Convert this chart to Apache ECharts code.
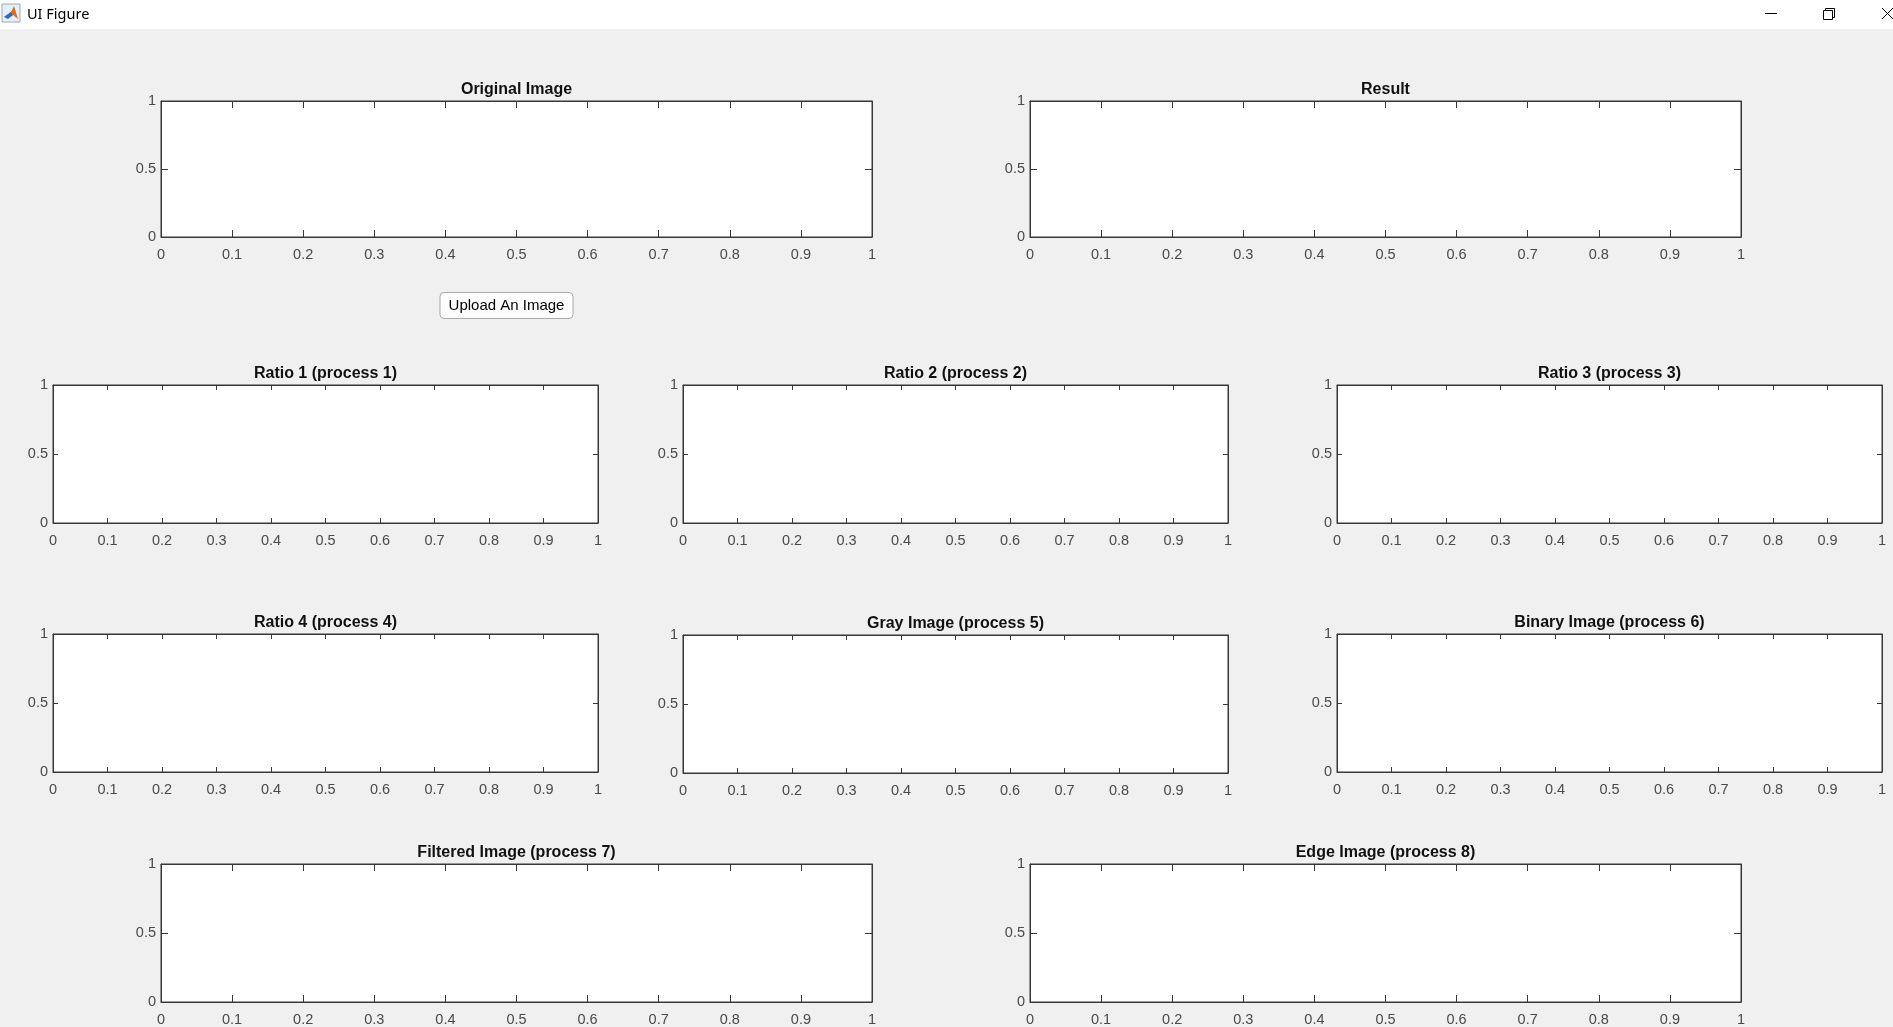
<!DOCTYPE html>
<html>
<head>
<meta charset="utf-8">
<title>UI Figure</title>
<script src="https://cdn.jsdelivr.net/npm/echarts@6/dist/echarts.min.js"></script>
<style>
  html, body { margin: 0; padding: 0; background: #f0f0f0; }
  #main { width: 1893px; height: 1027px; }
</style>
</head>
<body>
<div id="main"></div>
<script>
// panel titles, in MATLAB order
var panelTitles = ['Original Image', 'Result',
    'Ratio 1 (process 1)', 'Ratio 2 (process 2)', 'Ratio 3 (process 3)',
    'Ratio 4 (process 4)', 'Gray Image (process 5)', 'Binary Image (process 6)',
    'Filtered Image (process 7)', 'Edge Image (process 8)'];
// tick values (axes are empty, default 0..1 limits)
var xTickValues = [0, 0.1, 0.2, 0.3, 0.4, 0.5, 0.6, 0.7, 0.8, 0.9, 1];
var yTickValues = [0, 0.5, 1];

// layout of each axes box: left, top, width, height
var boxes = [
    [161, 101, 711, 136], [1030, 101, 711, 136],
    [53, 385, 545, 138], [683, 385, 545, 138], [1337, 385, 545, 138],
    [53, 634, 545, 138], [683, 635, 545, 138], [1337, 634, 545, 138],
    [161, 864, 711, 138], [1030, 864, 711, 138]
];

var lineColor = '#383838';
var labelColor = '#4a4a4a';
var fontName = 'Liberation Sans, Arial, sans-serif';

var dom = document.getElementById('main');
var myChart = echarts.init(dom, null, { renderer: 'canvas' });

var grids = [], xAxes = [], yAxes = [], titles = [], series = [];

for (var i = 0; i < panelTitles.length; i++) {
    var b = boxes[i];
    var tlen = Math.round(b[2] * 0.01);
    grids.push({
        left: b[0], top: b[1], width: b[2], height: b[3],
        show: true, backgroundColor: '#fff',
        borderColor: lineColor, borderWidth: 1,
        containLabel: false, outerBoundsMode: 'none'
    });
    ['bottom', 'top'].forEach(function (pos) {
        xAxes.push({
            type: 'value', gridIndex: i, position: pos,
            min: xTickValues[0], max: xTickValues[xTickValues.length - 1],
            axisLine: { show: true, onZero: false, lineStyle: { color: lineColor, width: 1 } },
            axisTick: { show: true, inside: true, length: tlen, customValues: xTickValues,
                lineStyle: { color: lineColor, width: 1 } },
            axisLabel: { show: pos === 'bottom', customValues: xTickValues, margin: 10,
                color: labelColor, fontSize: 14.5, fontFamily: fontName,
                showMinLabel: true, showMaxLabel: true, hideOverlap: false },
            splitLine: { show: false }
        });
    });
    ['left', 'right'].forEach(function (pos) {
        yAxes.push({
            type: 'value', gridIndex: i, position: pos,
            min: yTickValues[0], max: yTickValues[yTickValues.length - 1],
            axisLine: { show: true, onZero: false, lineStyle: { color: lineColor, width: 1 } },
            axisTick: { show: true, inside: true, length: tlen, customValues: yTickValues,
                lineStyle: { color: lineColor, width: 1 } },
            axisLabel: { show: pos === 'left', customValues: yTickValues, margin: 5,
                color: labelColor, fontSize: 14.5, fontFamily: fontName,
                showMinLabel: true, showMaxLabel: true, hideOverlap: false },
            splitLine: { show: false }
        });
    });
    titles.push({
        text: panelTitles[i],
        left: b[0] + b[2] / 2, top: b[1] - 19,
        textAlign: 'center', padding: 0,
        textStyle: { color: '#111', fontSize: 16, fontWeight: 'bold', fontFamily: fontName }
    });
    // axes are empty in the figure
    series.push({ type: 'scatter', xAxisIndex: 2 * i, yAxisIndex: 2 * i, data: [] });
}

option = {
    backgroundColor: '#f0f0f0',
    animation: false,
    title: titles,
    grid: grids,
    xAxis: xAxes,
    yAxis: yAxes,
    series: series,
    graphic: [
        // window title bar
        { type: 'rect', shape: { x: 0, y: 0, width: 1893, height: 29 }, style: { fill: '#fff' }, silent: true },
        { type: 'rect', shape: { x: 2, y: 4, width: 18, height: 18 }, style: { fill: '#e6eef7', stroke: '#9aa8b8', lineWidth: 1 } },
        { type: 'polygon', shape: { points: [[4, 17], [11, 12], [14, 6], [18, 19], [13, 15]] }, style: { fill: '#e86a17' } },
        { type: 'polygon', shape: { points: [[4, 17], [11, 12], [13, 15], [8, 19]] }, style: { fill: '#2a6fb5' } },
        { type: 'text', x: 27, y: 15, style: { text: 'UI Figure', fill: '#000', fontSize: 14.5, fontFamily: 'Noto Sans, sans-serif', verticalAlign: 'middle' } },
        { type: 'line', shape: { x1: 1765, y1: 13.5, x2: 1777, y2: 13.5 }, style: { stroke: '#000', lineWidth: 1 } },
        { type: 'rect', shape: { x: 1823.5, y: 10.5, width: 9, height: 9 }, style: { fill: 'none', stroke: '#000', lineWidth: 1 } },
        { type: 'polyline', shape: { points: [[1825.5, 10.5], [1825.5, 8.5], [1834.5, 8.5], [1834.5, 17.5], [1832.5, 17.5]] }, style: { fill: 'none', stroke: '#000', lineWidth: 1 } },
        { type: 'line', shape: { x1: 1882, y1: 8, x2: 1893, y2: 19 }, style: { stroke: '#000', lineWidth: 1 } },
        { type: 'line', shape: { x1: 1882, y1: 19, x2: 1893, y2: 8 }, style: { stroke: '#000', lineWidth: 1 } },
        // push button
        { type: 'rect', shape: { x: 440, y: 292.5, width: 133, height: 26, r: 4 }, style: { fill: '#fdfdfd', stroke: '#a9a9a9', lineWidth: 1 } },
        { type: 'text', x: 506.5, y: 306, style: { text: 'Upload An Image', fill: '#000', fontSize: 15, fontFamily: fontName, align: 'center', verticalAlign: 'middle' } }
    ]
};

myChart.setOption(option);
</script>
</body>
</html>
